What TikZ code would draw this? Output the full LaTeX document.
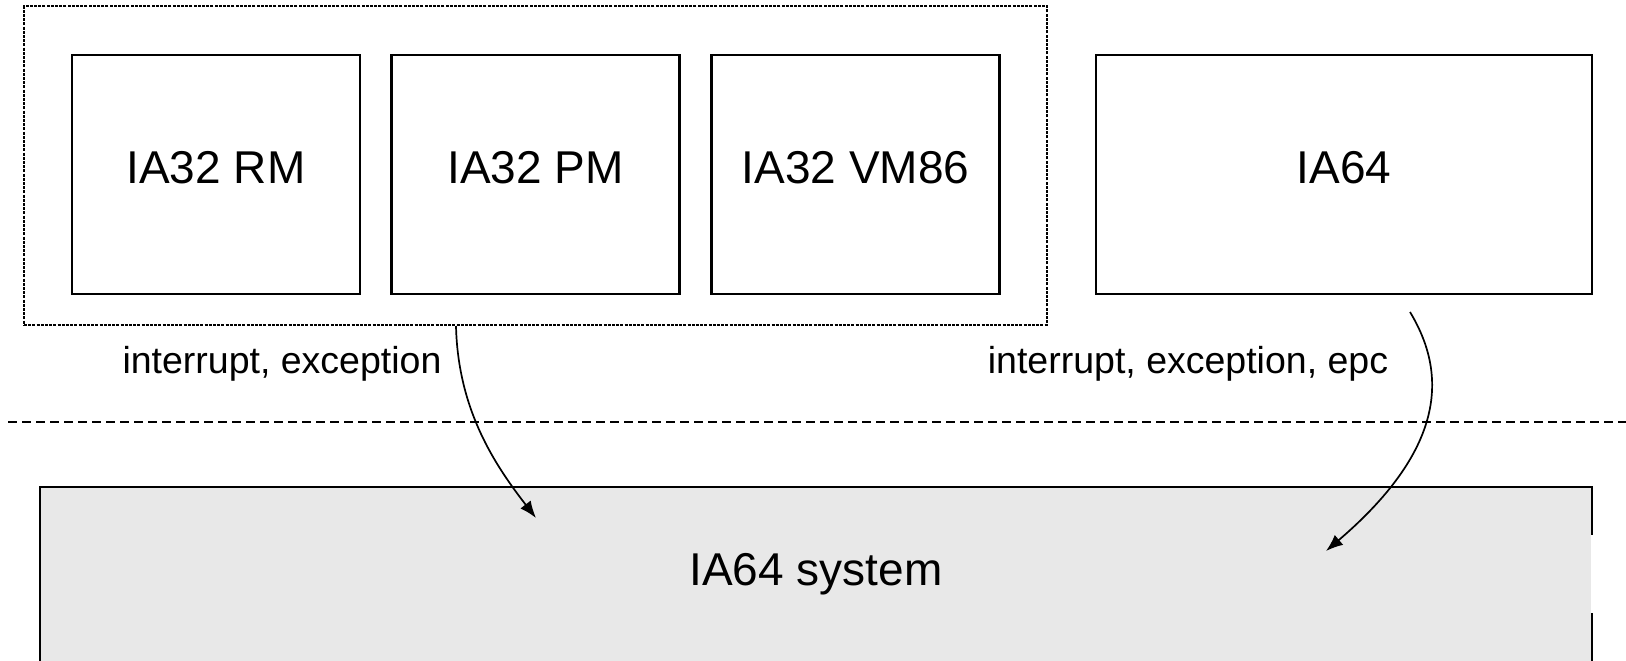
\documentclass[tikz,border=0pt]{standalone}
\usepackage{fontspec}
\setmainfont{Liberation Sans}
\usetikzlibrary{arrows.meta}
\definecolor{sysgray}{HTML}{E8E8E8}
\tikzset{
  modebox/.style={draw, line width=2.4pt, minimum width=288pt, minimum height=239pt,
    inner sep=0pt, text depth=13.5pt, font=\fontsize{46}{50}\selectfont},
  groupbox/.style={draw, line width=2.8pt, dash pattern=on 3pt off 1.2pt},
  sysbox/.style={draw, line width=2.4pt, fill=sysgray, inner sep=0pt,
    font=\fontsize{46}{50}\selectfont},
  lbl/.style={inner sep=0pt, font=\fontsize{37.5}{42}\selectfont},
  sep/.style={line width=2.6pt, dash pattern=on 8.5pt off 5.5pt},
  flow/.style={line width=1.7pt, -{Latex[length=17pt,width=13pt]}},
}
\begin{document}
\begin{tikzpicture}[x=1pt,y=-1pt]
\useasboundingbox (0,0) rectangle (1626,661);
\clip (0,0) rectangle (1626,661);

% IA32 modes, grouped in a dotted frame
\node[groupbox, minimum width=1023pt, minimum height=319pt, inner sep=0pt] (grp) at (535.5,165.5) {};
\node[modebox] (rm)   at (216,174.5) {IA32 RM};
\node[modebox] (pm)   at (535.5,174.5) {IA32 PM};
\node[modebox] (vm)   at (855.5,174.5) {IA32 VM86};
\node[modebox, minimum width=496pt] (ia64) at (1344,174.5) {IA64};

% system layer
\draw[sep] (8,422) -- (1640,422);
\node[sysbox, minimum width=1552pt, minimum height=200pt] (sys) at (816,587) {};
\node[font=\fontsize{46}{50}\selectfont] (systxt) at (816,574) {IA64 system};
\draw[white, line width=2.8pt] (1592,535) -- (1592,613);

% transitions
\node[lbl] (l1) at (282,364) {interrupt, exception};
\node[lbl] (l2) at (1188,364) {interrupt, exception, epc};
\coordinate (s1) at (456,326);
\coordinate (t1) at (536,518);
\coordinate (s2) at (1410,312);
\coordinate (t2) at (1326,551);
\draw[flow] (s1) .. controls (458,410) and (495,465) .. (t1);
\draw[flow] (s2) .. controls (1445,370) and (1450,445) .. (t2);
\end{tikzpicture}
\end{document}
